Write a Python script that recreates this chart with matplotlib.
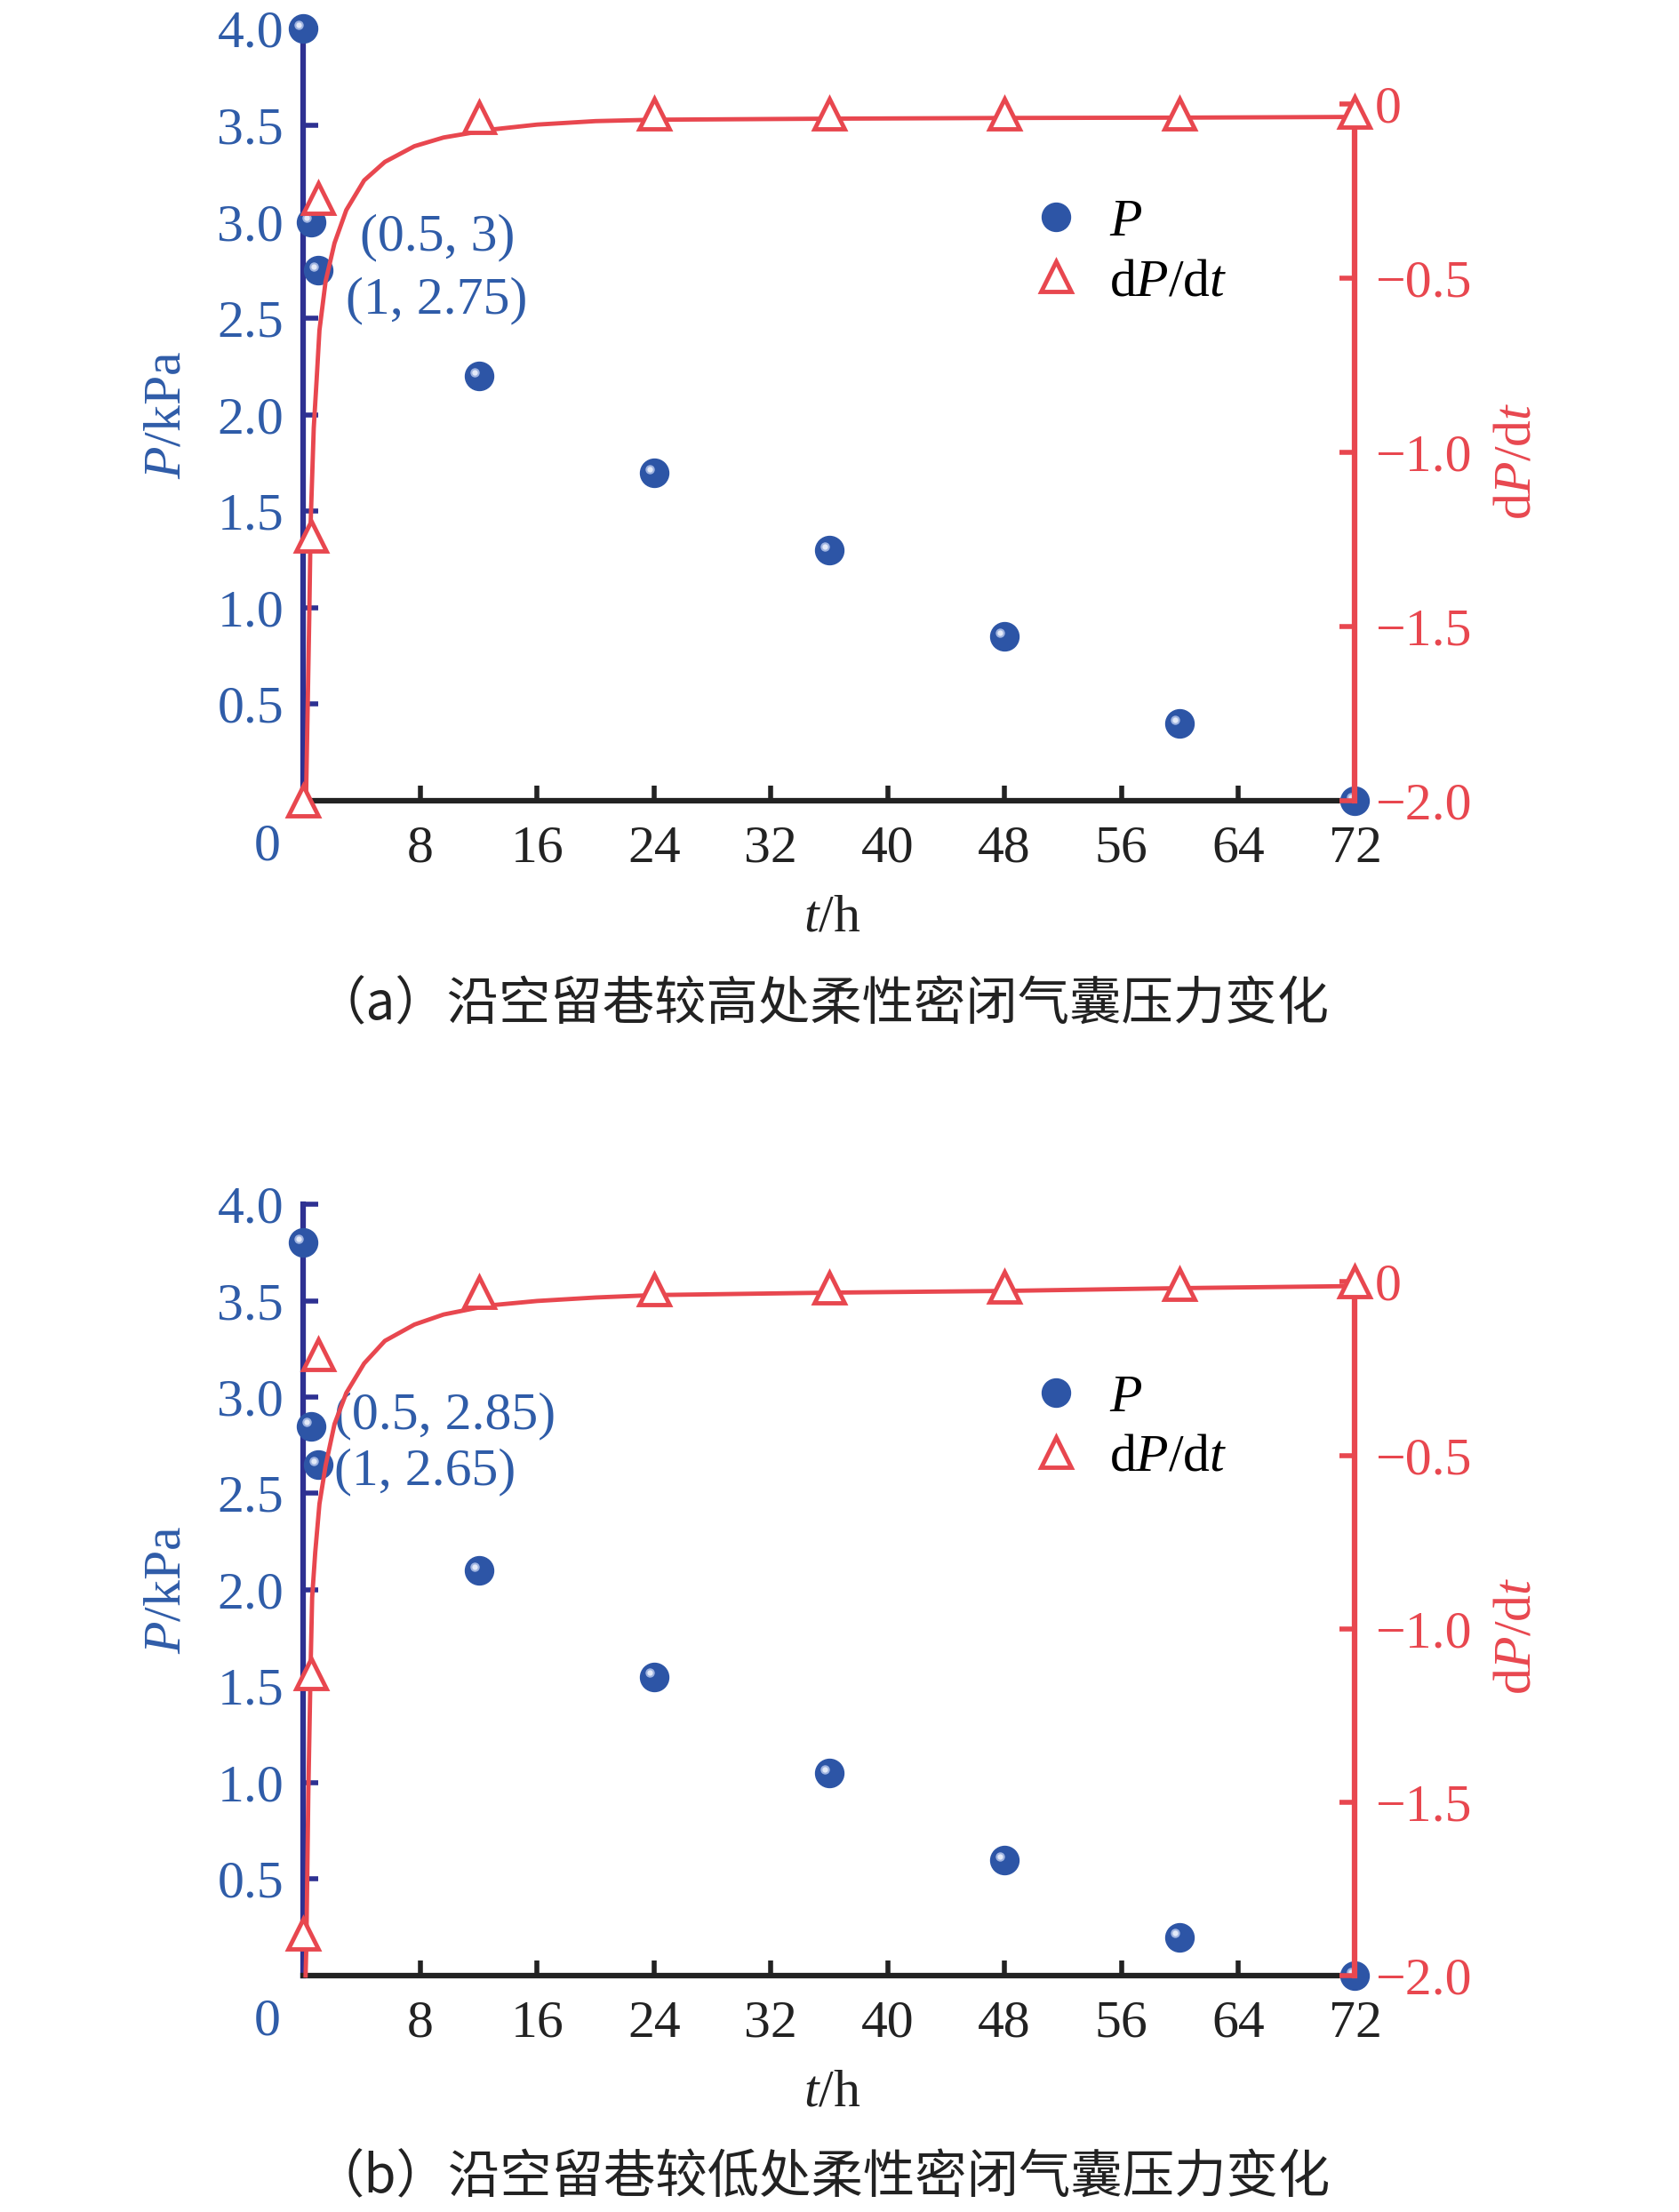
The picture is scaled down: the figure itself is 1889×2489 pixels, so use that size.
import matplotlib
matplotlib.use("Agg")
import matplotlib.pyplot as plt
import matplotlib.transforms as mtransforms
from matplotlib.lines import Line2D

plt.rcParams['font.family'] = ['Liberation Serif', 'Noto Sans CJK SC', 'DejaVu Sans']
plt.rcParams['mathtext.fontset'] = 'custom'
plt.rcParams['mathtext.rm'] = 'Liberation Serif'
plt.rcParams['mathtext.it'] = 'Liberation Serif:italic'

# measured times (h)
t_obs = [0, 0.5, 1, 12, 24, 36, 48, 60, 72]

# panel (a) high position
p_a = [4.0, 3.0, 2.75, 2.2, 1.7, 1.3, 0.85, 0.4, 0.0]
dp_a = [-2.0, -1.24, -0.27, -0.04, -0.03, -0.03, -0.03, -0.03, -0.025]
fit_t_a = [0.18, 0.2, 0.4, 0.5, 0.71, 0.91, 1.1, 1.52, 2.13, 2.94, 4.16, 5.58, 7.6, 9.6,
           12.7, 16, 20, 24, 36, 48, 60, 72]
fit_a = [-2.0, -1.95, -1.48, -1.2, -0.93, -0.79, -0.65, -0.51, -0.4, -0.305, -0.22, -0.167,
         -0.122, -0.097, -0.075, -0.06, -0.05, -0.046, -0.043, -0.041, -0.04, -0.038]

# panel (b) low position
p_b = [3.8, 2.85, 2.65, 2.1, 1.55, 1.05, 0.6, 0.2, 0.0]
dp_b = [-1.88, -1.13, -0.21, -0.03, -0.022, -0.018, -0.015, -0.007, 0.0]
fit_t_b = [0.15, 0.2, 0.34, 0.5, 0.6, 0.81, 1.1, 1.52, 2.13, 2.94, 4.16, 5.58, 7.6, 9.6,
           12.7, 16, 20, 24, 36, 48, 60, 72]
fit_b = [-2.0, -1.92, -1.47, -1.1, -0.91, -0.78, -0.64, -0.53, -0.41, -0.32, -0.235, -0.17,
         -0.123, -0.094, -0.068, -0.055, -0.045, -0.038, -0.031, -0.026, -0.018, -0.012]

x_ticks = [8, 16, 24, 32, 40, 48, 56, 64, 72]
p_ticks = [0.5, 1.0, 1.5, 2.0, 2.5, 3.0, 3.5, 4.0]
dp_ticks = [-2.0, -1.5, -1.0, -0.5, 0]
dp_ticklabels = ['\u22122.0', '\u22121.5', '\u22121.0', '\u22120.5', '0']

labels_a = [("(0.5, 3)", 3.9, 2.92), ("(1, 2.75)", 2.9, 2.59)]
labels_b = [("(0.5, 2.85)", 2.1, 2.90), ("(1, 2.65)", 2.1, 2.61)]

captions = ["（a）沿空留巷较高处柔性密闭气囊压力变化",
            "（b）沿空留巷较低处柔性密闭气囊压力变化"]

NAVY = '#2e3192'
BLUE = '#2f5ca8'
MARK = '#2d55a6'
RED = '#e8474f'
FS = 43


def draw_panel(fig, rect, p, dp, fit_t, fit, notes, dp_top):
    ax = fig.add_axes(rect)
    ax2 = ax.twinx()

    # P scatter, with a small highlight to mimic the shaded spheres
    ax.plot(t_obs, p, 'o', ms=23, color=MARK, mec=MARK, clip_on=False, zorder=5)
    hl = mtransforms.ScaledTranslation(-3.5 / 72, 3 / 72, fig.dpi_scale_trans)
    ax.plot(t_obs, p, 'o', ms=6, color='#e4eaf8', mec='#9fb3e0', mew=1.5, clip_on=False,
            zorder=6, transform=ax.transData + hl)

    ax.set_xlim(0, 72)
    ax.set_ylim(0, 4.0)
    ax.set_xticks(x_ticks)
    ax.set_yticks(p_ticks)
    ax.set_yticklabels([f"{v:.1f}" for v in p_ticks])
    ax.tick_params(axis='x', direction='in', length=12, width=4, colors='#222222',
                   labelsize=FS, pad=20)
    ax.tick_params(axis='y', direction='in', length=12, width=4, color=NAVY,
                   labelcolor=BLUE, labelsize=FS, pad=16)
    ax.spines['top'].set_visible(False)
    ax.spines['right'].set_visible(False)
    ax.spines['left'].set_color(NAVY)
    ax.spines['left'].set_linewidth(4.5)
    ax.spines['bottom'].set_color('#222222')
    ax.spines['bottom'].set_linewidth(4.5)
    ax.text(-0.034, -0.06, "0", transform=ax.transAxes, color=BLUE, fontsize=FS,
            ha='center', va='center')

    ax.set_ylabel("$P$/kPa", color=BLUE, fontsize=FS)
    ax.yaxis.set_label_coords(-0.106, 0.5)
    ax.set_xlabel("$t$/h", color='#222222', fontsize=FS)
    ax.xaxis.set_label_coords(0.503, -0.122)

    for txt, x, y in notes:
        ax.text(x, y, txt, color=BLUE, fontsize=FS, ha='left', va='center')

    # dP/dt on the right axis
    ax2.plot(fit_t, fit, '-', color=RED, lw=3.5, clip_on=False, zorder=3)
    ax2.plot(t_obs, dp, '^', ms=25, mfc='white', mec=RED, mew=3.5, clip_on=False, zorder=4)
    ax2.set_ylim(-2.0, dp_top)
    ax2.set_yticks(dp_ticks)
    ax2.set_yticklabels(dp_ticklabels)
    ax2.tick_params(axis='y', direction='in', length=12, width=4, color=RED,
                    labelcolor=RED, labelsize=FS, pad=16)
    for s in ['top', 'left', 'bottom']:
        ax2.spines[s].set_visible(False)
    ax2.spines['right'].set_color(RED)
    ax2.spines['right'].set_linewidth(4.5)
    ax2.spines['right'].set_bounds(-2.0, 0)
    ax2.set_ylabel("d$P$/d$t$", color=RED, fontsize=FS)
    ax2.yaxis.set_label_coords(1.132, 0.44)

    handles = [Line2D([], [], marker='o', ls='none', ms=23, color=MARK),
               Line2D([], [], marker='^', ls='none', ms=25, mfc='white', mec=RED, mew=3.5)]
    ax2.legend(handles, ["$P$", "d$P$/d$t$"], loc='center left',
               bbox_to_anchor=(0.645, 0.71), frameon=False, fontsize=FS,
               handletextpad=0.5, labelspacing=0.2, handlelength=1.0)
    return ax, ax2


fig = plt.figure(figsize=(18.9, 24.89), dpi=100)

draw_panel(fig, [0.1806, 0.638, 0.626, 0.349], p_a, dp_a, fit_t_a, fit_a, labels_a, 0.215)
draw_panel(fig, [0.1806, 0.1069, 0.626, 0.3487], p_b, dp_b, fit_t_b, fit_b, labels_b, 0.224)

fig.text(0.489, 0.5456, captions[0], fontsize=42, ha='center', va='center',
         family=['Noto Sans CJK SC', 'DejaVu Sans'], color='#222222')
fig.text(0.489, 0.0153, captions[1], fontsize=42, ha='center', va='center',
         family=['Noto Sans CJK SC', 'DejaVu Sans'], color='#222222')

fig.savefig("out.png", dpi=100)
